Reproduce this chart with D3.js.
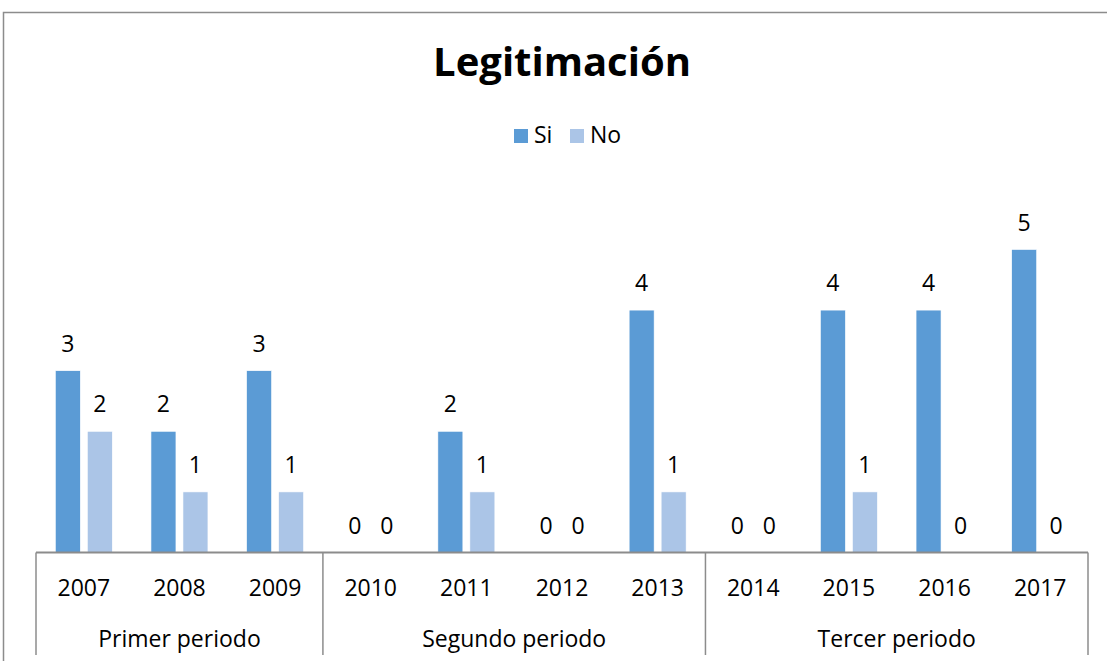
<!DOCTYPE html>
<html>
<head>
<meta charset="utf-8">
<script src="https://cdn.jsdelivr.net/npm/d3@7"></script>
<style>
  body { margin: 0; background: #fff; }
  svg text { font-family: "Open Sans", "Noto Sans", sans-serif; fill: #000; }
</style>
</head>
<body>
<div id="chart"></div>
<script>
// data
const years = ["2007", "2008", "2009", "2010", "2011", "2012", "2013", "2014", "2015", "2016", "2017"];
const periods = [
  {name: "Primer periodo", from: "2007", to: "2009"},
  {name: "Segundo periodo", from: "2010", to: "2013"},
  {name: "Tercer periodo", from: "2014", to: "2017"}
];
const seriesNames = ["Si", "No"];
const siValues = [3, 2, 3, 0, 2, 0, 4, 0, 4, 4, 5];
const noValues = [2, 1, 1, 0, 1, 0, 1, 0, 1, 0, 0];
const colors = {Si: "#5b9bd5", No: "#abc5e7"};

const width = 1107, height = 661;
const axisColor = "#8c8c8c";
const fontSize = "23px";

const svg = d3.select("#chart")
  .append("svg")
  .attr("width", width)
  .attr("height", height);

// chart frame (only top + left visible in the crop)
svg.append("path")
  .attr("d", `M3.5,${height} V12.5 H${width}`)
  .attr("fill", "none")
  .attr("stroke", axisColor)
  .attr("stroke-width", 1.5);

// title
svg.append("text")
  .attr("x", 562)
  .attr("y", 76)
  .attr("text-anchor", "middle")
  .style("font-size", "40px")
  .style("font-weight", "bold")
  .text("Legitimación");

// scales
const x0 = d3.scaleBand()
  .domain(years)
  .range([36, 1088]);

const x1 = d3.scaleBand()
  .domain(seriesNames)
  .range([0, x0.bandwidth()])
  .paddingInner(0.219)
  .paddingOuter(0.604);

const y = d3.scaleLinear()
  .domain([0, 6])
  .range([552.5, 188.9]);

// legend
const legend = svg.append("g").attr("class", "legend");
const legendItems = [{name: "Si", x: 514}, {name: "No", x: 570}];
legendItems.forEach(function(d) {
  legend.append("rect")
    .attr("x", d.x)
    .attr("y", 129)
    .attr("width", 14)
    .attr("height", 14)
    .attr("fill", colors[d.name]);
  legend.append("text")
    .attr("x", d.x + 20)
    .attr("y", 143)
    .style("font-size", fontSize)
    .text(d.name);
});

// bars
const rows = years.map(function(yr, i) {
  return {year: yr, values: [{key: "Si", value: siValues[i]}, {key: "No", value: noValues[i]}]};
});

const groups = svg.selectAll("g.year")
  .data(rows)
  .enter()
  .append("g")
  .attr("class", "year")
  .attr("transform", d => `translate(${x0(d.year)},0)`);

groups.selectAll("rect")
  .data(d => d.values)
  .enter()
  .append("rect")
  .attr("x", d => x1(d.key))
  .attr("y", d => y(d.value))
  .attr("width", x1.bandwidth())
  .attr("height", d => y(0) - y(d.value))
  .attr("fill", d => colors[d.key])
  .attr("stroke", "#fff")
  .attr("stroke-width", 0.6);

groups.selectAll("text")
  .data(d => d.values)
  .enter()
  .append("text")
  .attr("x", d => x1(d.key) + x1.bandwidth() / 2)
  .attr("y", d => y(d.value) - 19)
  .attr("text-anchor", "middle")
  .style("font-size", fontSize)
  .text(d => d.value);

// category axis, two levels
const axis = svg.append("g").attr("class", "x axis");

axis.append("line")
  .attr("x1", x0.range()[0])
  .attr("x2", x0.range()[1])
  .attr("y1", y(0))
  .attr("y2", y(0))
  .attr("stroke", axisColor)
  .attr("stroke-width", 2);

axis.selectAll("text.year")
  .data(years)
  .enter()
  .append("text")
  .attr("class", "year")
  .attr("x", d => x0(d) + x0.bandwidth() / 2)
  .attr("y", 596)
  .attr("text-anchor", "middle")
  .style("font-size", fontSize)
  .text(d => d);

// separators at the period boundaries
const bounds = [x0(periods[0].from)].concat(periods.map(p => x0(p.to) + x0.bandwidth()));
axis.selectAll("line.sep")
  .data(bounds)
  .enter()
  .append("line")
  .attr("class", "sep")
  .attr("x1", d => d)
  .attr("x2", d => d)
  .attr("y1", y(0))
  .attr("y2", 655)
  .attr("stroke", axisColor)
  .attr("stroke-width", 1.5);

axis.selectAll("text.period")
  .data(periods)
  .enter()
  .append("text")
  .attr("class", "period")
  .attr("x", p => (x0(p.from) + x0(p.to) + x0.bandwidth()) / 2)
  .attr("y", 647)
  .attr("text-anchor", "middle")
  .style("font-size", fontSize)
  .text(p => p.name);
</script>
</body>
</html>
